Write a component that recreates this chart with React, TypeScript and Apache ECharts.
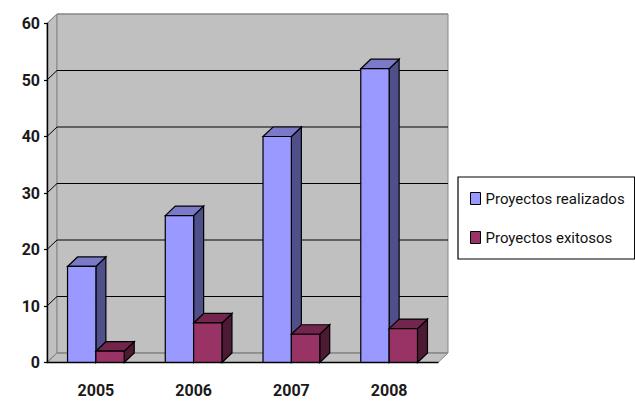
import React, { useEffect, useRef } from "react";
import * as echarts from "echarts";

const years = ["2005", "2006", "2007", "2008"];
const realizados = [17, 26, 40, 52];
const exitosos = [2, 7, 5, 6];
const yTicks = [0, 10, 20, 30, 40, 50, 60];

const realizadosName = "Proyectos realizados";
const exitososName = "Proyectos exitosos";

const labelFont = "Roboto, sans-serif";
const depthX = 10;
const depthY = 9.5;

// One extruded column: front, top and side faces with a shared black outline.
function prism(x: number, y: number, w: number, y0: number, front: string, top: string, side: string) {
  const stroke = { stroke: "#000", lineWidth: 1.2, lineJoin: "miter" };
  return {
    type: "group",
    children: [
      {
        type: "polygon",
        shape: { points: [[x + w, y], [x + w + depthX, y - depthY], [x + w + depthX, y0 - depthY], [x + w, y0]] },
        style: { fill: side, ...stroke },
      },
      {
        type: "polygon",
        shape: { points: [[x, y], [x + depthX, y - depthY], [x + w + depthX, y - depthY], [x + w, y]] },
        style: { fill: top, ...stroke },
      },
      {
        type: "rect",
        shape: { x, y, width: w, height: y0 - y },
        style: { fill: front, ...stroke },
      },
    ],
  };
}

function barRenderer(offset: number, front: string, top: string, side: string) {
  return (_: any, api: any) => {
    const idx = api.value(0);
    const [cx, y] = api.coord([idx, api.value(1)]);
    const [, y0] = api.coord([idx, 0]);
    const w = api.size([1, 0])[0] * 0.29;
    return prism(cx + offset * w, y, w, y0, front, top, side);
  };
}

// Back wall, side wall, floor and the gridlines folded around them.
function wallRenderer(params: any, api: any) {
  const sys = params.coordSys;
  const left = sys.x;
  const right = sys.x + sys.width;
  const top = sys.y;
  const bottom = sys.y + sys.height;
  const tick = api.value(0);
  const [, y] = api.coord([0, tick]);
  const edge = tick === 0 || tick === 60;
  const color = edge ? "#868686" : "#000";
  const children: any[] = [];
  if (params.dataIndex === 0) {
    const wall = { fill: "#C0C0C0", stroke: "#868686", lineWidth: 1 };
    children.push(
      {
        type: "polygon",
        shape: { points: [[left, top], [left + depthX, top - depthY], [left + depthX, bottom - depthY], [left, bottom]] },
        style: wall,
      },
      {
        type: "rect",
        shape: { x: left + depthX, y: top - depthY, width: right - left, height: bottom - top },
        style: wall,
      },
      {
        type: "polygon",
        shape: { points: [[left, bottom], [left + depthX, bottom - depthY], [right + depthX, bottom - depthY], [right, bottom]] },
        style: wall,
      },
    );
  }
  children.push(
    {
      type: "line",
      shape: { x1: left + depthX, y1: y - depthY, x2: right + depthX, y2: y - depthY },
      style: { stroke: color, lineWidth: edge ? 1 : 1.2 },
    },
    {
      type: "line",
      shape: { x1: left, y1: y, x2: left + depthX, y2: y - depthY },
      style: { stroke: color, lineWidth: 1 },
    },
  );
  return { type: "group", children };
}

export default function App() {
  const ref = useRef<HTMLDivElement>(null);

  useEffect(() => {
    document.body.style.margin = "0";
    const chart = echarts.init(ref.current!, undefined, { renderer: "svg" });
    chart.setOption({
      animation: false,
      backgroundColor: "#fff",
      grid: { left: 47, right: 197, top: 23.5, bottom: 46.5 },
      xAxis: {
        type: "category",
        data: years,
        z: 6,
        axisLine: { lineStyle: { color: "#000", width: 1.4 } },
        axisTick: { alignWithLabel: false, length: 5, lineStyle: { color: "#000", width: 1.2 } },
        axisLabel: { margin: 20, color: "#1a1a1a", fontFamily: labelFont, fontWeight: "bold", fontSize: 16 },
      },
      yAxis: {
        type: "value",
        min: 0,
        max: 60,
        interval: 10,
        z: 6,
        splitLine: { show: false },
        axisLine: { show: true, lineStyle: { color: "#000", width: 1.4 } },
        axisTick: { show: true, length: 3, lineStyle: { color: "#000", width: 1.2 } },
        axisLabel: { margin: 7, padding: [7, 0, 0, 0], color: "#1a1a1a", fontFamily: labelFont, fontWeight: "bold", fontSize: 16 },
      },
      legend: {
        left: 458,
        top: 177,
        orient: "vertical",
        icon: "rect",
        itemWidth: 10,
        itemHeight: 12,
        itemGap: 24,
        padding: [14, 10, 14, 12],
        borderColor: "#000",
        borderWidth: 1.2,
        backgroundColor: "#fff",
        textStyle: { color: "#111", fontFamily: labelFont, fontSize: 15, padding: [0, 0, 0, 0] },
        data: [
          { name: realizadosName, itemStyle: { color: "#9999FF", borderColor: "#000", borderWidth: 1 } },
          { name: exitososName, itemStyle: { color: "#993366", borderColor: "#000", borderWidth: 1 } },
        ],
      },
      series: [
        {
          type: "custom",
          name: "pared",
          z: 1,
          silent: true,
          encode: { y: 0 },
          data: yTicks.map((t) => [t]),
          renderItem: wallRenderer,
        },
        {
          type: "custom",
          name: realizadosName,
          z: 3,
          itemStyle: { color: "#9999FF" },
          encode: { x: 0, y: 1 },
          data: realizados.map((v, i) => [i, v]),
          renderItem: barRenderer(-1, "#9999FF", "#7A7AC9", "#4F4F8A"),
        },
        {
          type: "custom",
          name: exitososName,
          z: 4,
          itemStyle: { color: "#993366" },
          encode: { x: 0, y: 1 },
          data: exitosos.map((v, i) => [i, v]),
          renderItem: barRenderer(0, "#993366", "#73264D", "#4D1A33"),
        },
      ],
    });
    return () => chart.dispose();
  }, []);

  return <div ref={ref} style={{ width: 635, height: 409 }} />;
}
